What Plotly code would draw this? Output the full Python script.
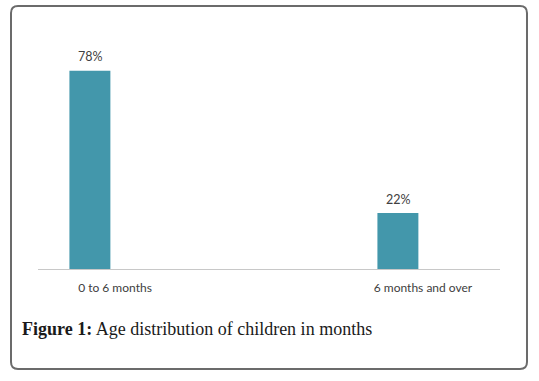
import plotly.graph_objects as go

categories = ["0 to 6 months", "6 months and over"]
values = [78, 22]
value_labels = ["78%", "22%"]
caption_bold = "Figure 1:"
caption_rest = " Age distribution of children in months"

W, H = 539, 381
ml, mr, mt, mb = 38, 39, 53, 112
pw, ph = W - ml - mr, H - mt - mb

def px2paper(x, y):
    return (x - ml) / pw, (H - mb - y) / ph

fig = go.Figure()
fig.add_trace(go.Bar(
    x=categories, y=values,
    marker=dict(color="#4397AB", line=dict(width=0)),
    width=0.133, offset=-0.148,
    hoverinfo="skip",
))

for c, v, t in zip(categories, values, value_labels):
    fig.add_annotation(
        x=c, y=v, xref="x", yref="y", showarrow=False,
        xshift=-25, yshift=14, yanchor="middle",
        text=t, font=dict(family="Lato", size=12.5, color="#404040"),
    )

# rounded border
x0, y0, x1, y1, r = 11, 6, 527, 369, 7
def P(x, y):
    a, b = px2paper(x, y)
    return f"{a:.5f},{b:.5f}"
path = (f"M {P(x0 + r, y0)} L {P(x1 - r, y0)} Q {P(x1, y0)} {P(x1, y0 + r)} "
        f"L {P(x1, y1 - r)} Q {P(x1, y1)} {P(x1 - r, y1)} "
        f"L {P(x0 + r, y1)} Q {P(x0, y1)} {P(x0, y1 - r)} "
        f"L {P(x0, y0 + r)} Q {P(x0, y0)} {P(x0 + r, y0)} Z")
fig.add_shape(type="path", path=path, xref="paper", yref="paper",
              line=dict(color="#6b6b6b", width=2), fillcolor="rgba(0,0,0,0)")

cx, cy = px2paper(20, 329)
fig.add_annotation(
    x=cx, y=cy, xref="paper", yref="paper", xanchor="left", yanchor="middle",
    showarrow=False,
    text=f"<b>{caption_bold}</b>{caption_rest}",
    font=dict(family="Liberation Serif", size=18, color="#1a1a1a"),
)

fig.update_layout(
    width=W, height=H,
    margin=dict(l=ml, r=mr, t=mt, b=mb),
    paper_bgcolor="white", plot_bgcolor="white",
    showlegend=False,
    xaxis=dict(
        type="category", range=[-0.25, 1.25],
        showline=True, linecolor="#c8c8c8", linewidth=1,
        showgrid=False, zeroline=False,
        ticks="outside", ticklen=8, tickcolor="rgba(0,0,0,0)",
        tickfont=dict(family="Lato", size=12, color="#404040"),
    ),
    yaxis=dict(
        range=[0, 85], visible=False, showgrid=False, zeroline=False,
    ),
)

fig.write_html("out.html", config={"displayModeBar": False},
               post_script="document.body.style.margin='0';")
